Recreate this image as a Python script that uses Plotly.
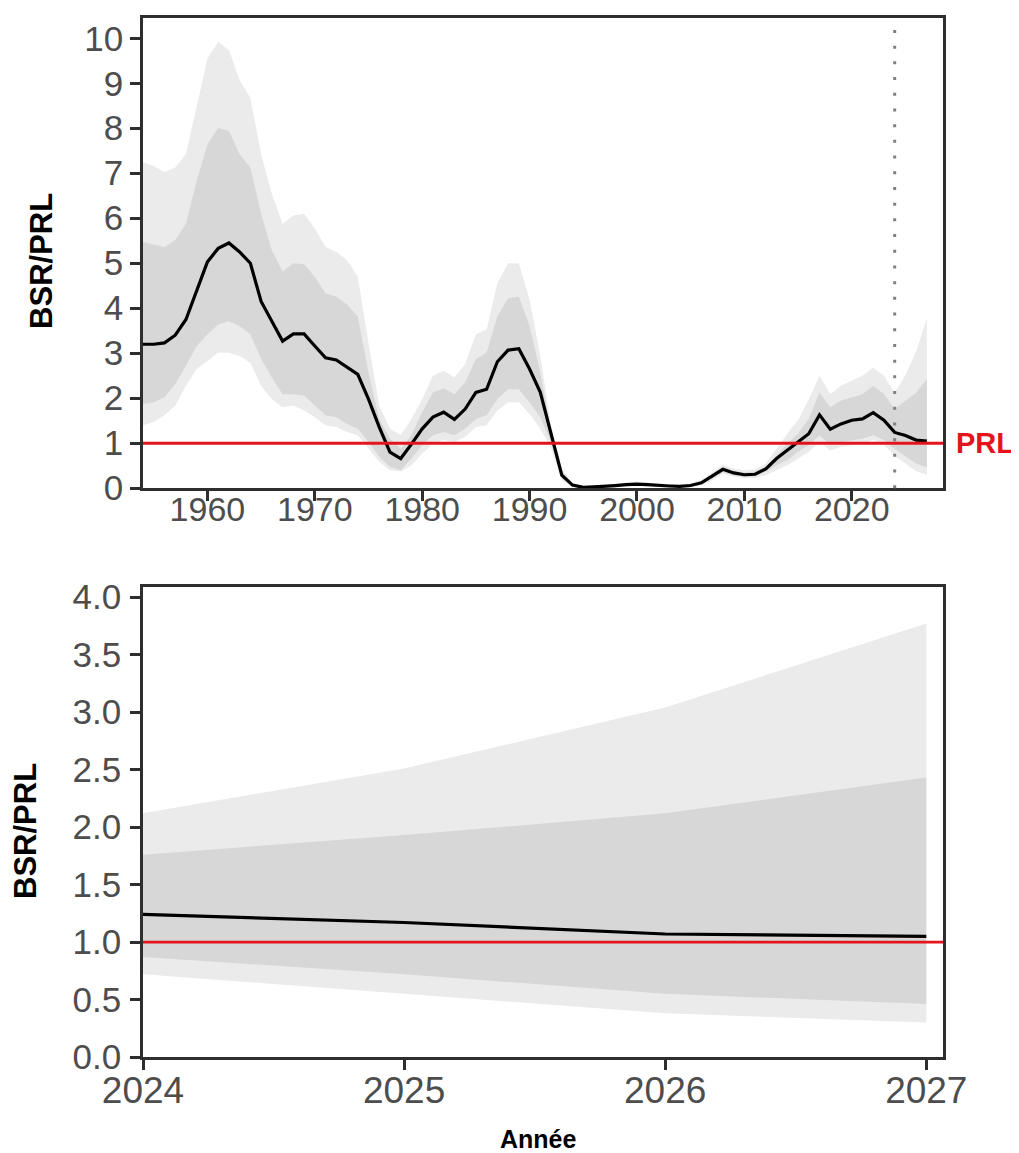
import plotly.graph_objects as go

# ---------------- data ----------------
years = list(range(1954, 2028))

median = [3.20, 3.20, 3.23, 3.40, 3.75, 4.40, 5.03, 5.33, 5.45, 5.25,
          5.00, 4.15, 3.71, 3.27, 3.43, 3.43, 3.16, 2.90, 2.85, 2.68,
          2.53, 1.98, 1.36, 0.80, 0.66, 0.98, 1.32, 1.58, 1.69, 1.53,
          1.76, 2.13, 2.20, 2.81, 3.07, 3.10, 2.65, 2.13, 1.18, 0.29,
          0.07, 0.02, 0.03, 0.04, 0.06, 0.08, 0.09, 0.08, 0.06, 0.05,
          0.04, 0.06, 0.12, 0.26, 0.42, 0.34, 0.30, 0.31, 0.43, 0.66,
          0.84, 1.03, 1.21, 1.63, 1.31, 1.43, 1.51, 1.54, 1.68, 1.51,
          1.24, 1.17, 1.07, 1.05]

outer_upper = [7.24, 7.16, 7.02, 7.13, 7.42, 8.45, 9.55, 9.92, 9.74, 9.07,
               8.67, 7.42, 6.54, 5.88, 6.06, 6.10, 5.77, 5.36, 5.25, 5.07,
               4.70, 3.23, 1.84, 1.32, 1.18, 1.54, 1.98, 2.50, 2.61, 2.46,
               2.76, 3.42, 3.53, 4.56, 5.00, 5.00, 4.19, 2.94, 1.40, 0.44,
               0.11, 0.05, 0.06, 0.07, 0.10, 0.13, 0.14, 0.12, 0.10, 0.09,
               0.08, 0.11, 0.18, 0.35, 0.53, 0.44, 0.40, 0.42, 0.55, 0.88,
               1.21, 1.51, 1.98, 2.50, 2.09, 2.28, 2.39, 2.50, 2.68, 2.50,
               2.12, 2.51, 3.04, 3.77]

inner_upper = [5.47, 5.42, 5.36, 5.51, 5.88, 6.83, 7.64, 8.01, 7.94, 7.42,
               7.13, 6.10, 5.29, 4.81, 5.00, 4.98, 4.70, 4.33, 4.26, 4.08,
               3.82, 2.57, 1.54, 1.10, 0.88, 1.18, 1.69, 2.13, 2.22, 2.09,
               2.35, 2.87, 3.01, 3.82, 4.22, 4.26, 3.60, 2.57, 1.25, 0.37,
               0.09, 0.04, 0.05, 0.06, 0.08, 0.11, 0.12, 0.10, 0.08, 0.07,
               0.06, 0.09, 0.15, 0.31, 0.48, 0.39, 0.35, 0.37, 0.48, 0.73,
               0.99, 1.21, 1.54, 2.13, 1.80, 1.95, 2.02, 2.09, 2.28, 2.09,
               1.76, 1.93, 2.12, 2.43]

inner_lower = [1.87, 1.91, 2.02, 2.31, 2.72, 3.16, 3.42, 3.64, 3.71, 3.60,
               3.42, 2.87, 2.46, 2.09, 2.09, 2.06, 1.84, 1.62, 1.58, 1.43,
               1.32, 1.03, 0.70, 0.48, 0.40, 0.66, 0.96, 1.18, 1.25, 1.18,
               1.32, 1.54, 1.62, 1.98, 2.20, 2.20, 1.91, 1.58, 1.03, 0.22,
               0.04, 0.01, 0.02, 0.02, 0.04, 0.06, 0.07, 0.06, 0.04, 0.03,
               0.03, 0.04, 0.09, 0.21, 0.36, 0.29, 0.25, 0.26, 0.37, 0.51,
               0.62, 0.81, 0.96, 1.18, 0.96, 1.03, 1.07, 1.10, 1.18, 1.07,
               0.87, 0.72, 0.55, 0.46]

outer_lower = [1.40, 1.47, 1.62, 1.84, 2.28, 2.65, 2.83, 3.01, 3.01, 2.94,
               2.79, 2.28, 1.98, 1.80, 1.84, 1.73, 1.58, 1.40, 1.36, 1.25,
               1.18, 0.88, 0.59, 0.40, 0.37, 0.51, 0.77, 0.99, 1.07, 1.03,
               1.14, 1.36, 1.40, 1.73, 1.91, 1.91, 1.65, 1.32, 0.88, 0.18,
               0.02, 0.005, 0.01, 0.015, 0.03, 0.04, 0.05, 0.04, 0.03, 0.02,
               0.02, 0.03, 0.07, 0.18, 0.32, 0.26, 0.22, 0.23, 0.29, 0.40,
               0.51, 0.66, 0.81, 1.03, 0.84, 0.92, 0.96, 0.99, 1.07, 0.96,
               0.72, 0.55, 0.38, 0.30]

projection_start = 2024
reference_point = 1.0  # BSR / PRL = 1
ref_label = "PRL"

top_xticks = [1960, 1970, 1980, 1990, 2000, 2010, 2020]
top_yticks = list(range(0, 11))
bot_xticks = [2024, 2025, 2026, 2027]
bot_yticks = [0.0, 0.5, 1.0, 1.5, 2.0, 2.5, 3.0, 3.5, 4.0]

# ---------------- layout geometry ----------------
OFF = 8  # page body margin of the html page
W, H = 1019 - OFF, 1153 - OFF
ML, MT = 143 - OFF, 9 - OFF
MR = W - (943 - OFF)
MB = 96
PW, PH = W - ML - MR, H - MT - MB


def py(ry):  # reference pixel y -> paper fraction
    return (H - MB - (ry - OFF)) / PH


def pxx(rx):  # reference pixel x -> paper fraction
    return (rx - OFF - ML) / PW


OUTER = "#EBEBEB"
INNER = "#D7D7D7"
RED = "#E3141C"
FRAME = "#2E2E2E"
TICKTXT = "#4D4D4D"
FONT = "Liberation Sans, Arial, sans-serif"

fig = go.Figure()


def add_panel(xs, med, ou, iu, il, ol, xa, ya, lw):
    fig.add_trace(go.Scatter(x=xs + xs[::-1], y=ou + ol[::-1], fill="toself",
                             fillcolor=OUTER, line=dict(width=0), mode="lines",
                             hoverinfo="skip", showlegend=False, xaxis=xa, yaxis=ya))
    fig.add_trace(go.Scatter(x=xs + xs[::-1], y=iu + il[::-1], fill="toself",
                             fillcolor=INNER, line=dict(width=0), mode="lines",
                             hoverinfo="skip", showlegend=False, xaxis=xa, yaxis=ya))
    fig.add_trace(go.Scatter(x=xs, y=med, mode="lines",
                             line=dict(color="black", width=lw),
                             showlegend=False, xaxis=xa, yaxis=ya))


add_panel(years, median, outer_upper, inner_upper, inner_lower, outer_lower,
          "x", "y", 3.2)

i0 = years.index(projection_start)
add_panel(years[i0:], median[i0:], outer_upper[i0:], inner_upper[i0:],
          inner_lower[i0:], outer_lower[i0:], "x2", "y2", 3.2)

# reference lines
fig.add_shape(type="line", xref="x domain", yref="y", x0=0, x1=1,
              y0=reference_point, y1=reference_point,
              line=dict(color=RED, width=3.2), layer="above")
fig.add_shape(type="line", xref="x2 domain", yref="y2", x0=0, x1=1,
              y0=reference_point, y1=reference_point,
              line=dict(color=RED, width=2.8), layer="above")
fig.add_shape(type="line", xref="x", yref="y domain", x0=projection_start,
              x1=projection_start, y0=0, y1=1,
              line=dict(color="#808080", width=3, dash="3px,12.7px"), layer="above")

axis_common = dict(showline=True, linewidth=2.5, linecolor=FRAME, mirror=True,
                   ticks="outside", ticklen=10, tickwidth=2.5, tickcolor=FRAME,
                   showgrid=False, zeroline=False)

fig.update_layout(
    width=W, height=H,
    margin=dict(l=ML, r=MR, t=MT, b=MB),
    paper_bgcolor="white", plot_bgcolor="white",
    font=dict(family=FONT),
    xaxis=dict(domain=[0, 1], range=[1954, 2028.5], tickvals=top_xticks,
               tickfont=dict(size=34, color=TICKTXT, family=FONT),
               ticklabelstandoff=-21, anchor="y", **axis_common),
    yaxis=dict(domain=[py(483.3), 1], range=[0, 10.45], tickvals=top_yticks,
               tickfont=dict(size=35, color=TICKTXT, family=FONT),
               ticklabelstandoff=0, anchor="x", **axis_common),
    xaxis2=dict(domain=[0, 1], range=[2024, 2027.064], tickvals=bot_xticks,
                tickfont=dict(size=37, color=TICKTXT, family=FONT),
                ticklabelstandoff=-11, anchor="y2", **axis_common),
    yaxis2=dict(domain=[0, py(582.7)], range=[0, 4.09], tickvals=bot_yticks,
                tickformat=".1f", ticklabelstandoff=2,
                tickfont=dict(size=35, color=TICKTXT, family=FONT),
                anchor="x2", **axis_common),
)

fig.add_annotation(text="<b>" + ref_label + "</b>", xref="x domain", yref="y",
                   x=1, y=reference_point, xanchor="left", yanchor="middle",
                   xshift=11, showarrow=False,
                   font=dict(size=29, color=RED, family=FONT))
fig.add_annotation(text="<b>BSR/PRL</b>", xref="paper", yref="paper",
                   x=pxx(42), y=py(254), textangle=-90, showarrow=False,
                   xanchor="center", yanchor="middle",
                   font=dict(size=31, color="black", family=FONT))
fig.add_annotation(text="<b>BSR/PRL</b>", xref="paper", yref="paper",
                   x=pxx(26), y=py(829), textangle=-90, showarrow=False,
                   xanchor="center", yanchor="middle",
                   font=dict(size=31, color="black", family=FONT))
fig.add_annotation(text="<b>Année</b>", xref="paper", yref="paper",
                   x=pxx(538), y=py(1140), showarrow=False,
                   xanchor="center", yanchor="middle",
                   font=dict(size=25, color="black", family=FONT))

fig.write_html("out.html")
